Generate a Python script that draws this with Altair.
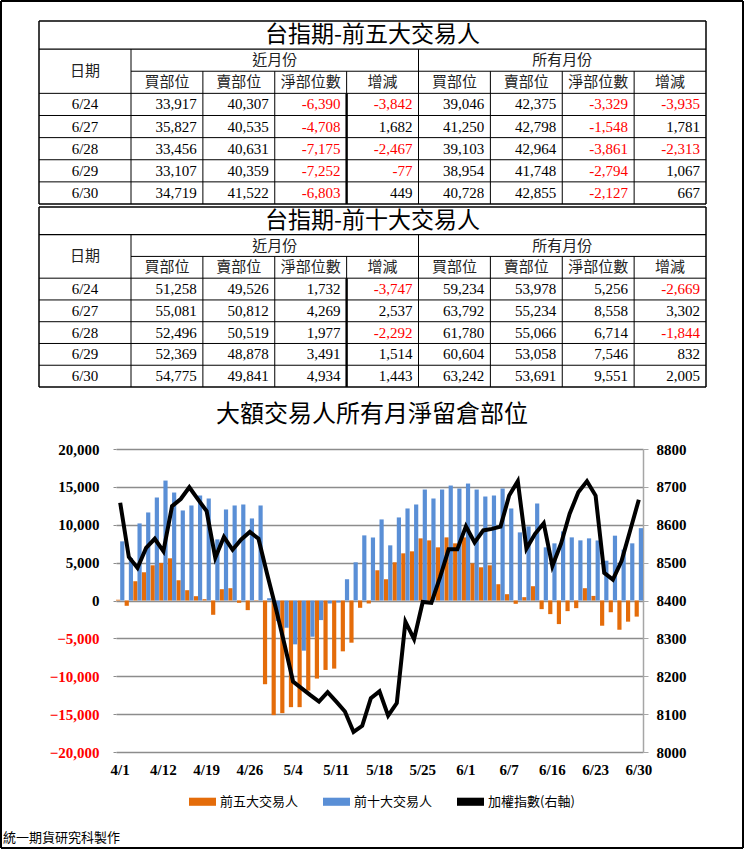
import altair as alt
import pandas as pd

# ---------------- table data ----------------
table_dates = ["6/24", "6/27", "6/28", "6/29", "6/30"]
sub_headers = ["買部位", "賣部位", "淨部位數", "增減"]

top5_near_buy = [33917, 35827, 33456, 33107, 34719]
top5_near_sell = [40307, 40535, 40631, 40359, 41522]
top5_near_net = [-6390, -4708, -7175, -7252, -6803]
top5_near_chg = [-3842, 1682, -2467, -77, 449]
top5_all_buy = [39046, 41250, 39103, 38954, 40728]
top5_all_sell = [42375, 42798, 42964, 41748, 42855]
top5_all_net = [-3329, -1548, -3861, -2794, -2127]
top5_all_chg = [-3935, 1781, -2313, 1067, 667]

top10_near_buy = [51258, 55081, 52496, 52369, 54775]
top10_near_sell = [49526, 50812, 50519, 48878, 49841]
top10_near_net = [1732, 4269, 1977, 3491, 4934]
top10_near_chg = [-3747, 2537, -2292, 1514, 1443]
top10_all_buy = [59234, 63792, 61780, 60604, 63242]
top10_all_sell = [53978, 55234, 55066, 53058, 53691]
top10_all_net = [5256, 8558, 6714, 7546, 9551]
top10_all_chg = [-2669, 3302, -1844, 832, 2005]

# ---------------- chart data ----------------
dates = ["4/1", "4/6", "4/7", "4/8", "4/11", "4/12", "4/13", "4/14", "4/15",
         "4/18", "4/19", "4/20", "4/21", "4/22", "4/25", "4/26", "4/27", "4/28", "4/29",
         "5/3", "5/4", "5/5", "5/6", "5/9", "5/10", "5/11", "5/12", "5/13",
         "5/16", "5/17", "5/18", "5/19", "5/20", "5/23", "5/24", "5/25", "5/26", "5/27",
         "5/30", "5/31",
         "6/1", "6/2", "6/3", "6/4", "6/6", "6/7", "6/8", "6/13", "6/14", "6/15", "6/16",
         "6/17", "6/20", "6/21", "6/22", "6/23", "6/24", "6/27", "6/28", "6/29", "6/30"]
tick_labels = ["4/1", "4/12", "4/19", "4/26", "5/4", "5/11", "5/18", "5/25",
               "6/1", "6/7", "6/16", "6/23", "6/30"]
top5_net = [100, -700, 2544, 3728, 4649, 4956, 5570, 2675, 1360, 570, 175,
            -1886, 1491, 1623, -307, -1272, -50, -11053, -15132, -14868, -14079,
            -14079, -11886, -10307, -9167, -8991, -6711, -5570, -965, -395, 3991,
            2807, 5044, 6228, 6491, 8202, 7939, 7018, 8333, 7544, 8333,
            4912, 4386, 4649, 2149, 833, -439, 439, 1886, -1140, -1798,
            -3114, -1404, -1009, 1623, 606, -3329, -1548, -3861, -2794, -2127]
top10_net = [7807, 5600, 10175, 11623, 13597, 15833, 14254, 11886, 12544, 13860, 13465,
             8070, 12018, 12544, 12675, 10833, 12544, 300, -2719, -3596, -5789,
             -6623, -4781, -2588, -395, -263, 2807, 5044, 8596, 8333, 10702,
             7281, 10965, 12149, 12675, 14649, 13465, 14649, 15176, 14781, 15439,
             14649, 13728, 13860, 14781, 12149, 8991, 9781, 12807, 7018, 7544,
             9123, 8333, 7939, 8202, 7925, 5256, 8558, 6714, 7546, 9551]
taiex = [8658, 8515, 8486, 8539, 8563, 8530, 8649, 8668, 8699, 8667, 8636,
         8513, 8568, 8534, 8561, 8581, 8563, 8470, 8380, 8285, 8186,
         8168, 8150, 8133, 8158, 8133, 8107, 8053, 8069, 8142, 8160,
         8096, 8129, 8344, 8298, 8396, 8394, 8461, 8535, 8535, 8596,
         8553, 8585, 8589, 8595, 8677, 8715, 8537, 8576, 8604, 8491,
         8550, 8629, 8686, 8715, 8677, 8473, 8455, 8504, 8585, 8666]
series_names = ["前五大交易人", "前十大交易人", "加權指數(右軸)"]

SERIF = "Liberation Serif, Noto Sans CJK TC"
CJK = "Noto Sans CJK TC"
RED = "#FF0000"
ORANGE = "#E46C0A"
BLUE = "#5A8FD6"
ONE = pd.DataFrame({"k": [0]})

# table geometry in cell units
DATE_U = 1.28
NCOL_U = DATE_U + 8
TITLE_U = 1.27
NROW_U = TITLE_U + 7
PAD_U = 0.085
PLOT_W = 527
PLOT_H = 303
# frame (relative to the plot origin shared by all three panels)
FL, FR = -115, 627


def vline(x, y1, y2, w=2.0):
    return alt.Chart(ONE).mark_rule(color="black", strokeWidth=w).encode(
        x=alt.value(x), y=alt.value(y1), y2=alt.value(y2))


def hline(y, x1, x2, w=2.0):
    return alt.Chart(ONE).mark_rule(color="black", strokeWidth=w).encode(
        y=alt.value(y), x=alt.value(x1), x2=alt.value(x2))


def build_table(title, columns, height, frame_top):
    xs = alt.Scale(domain=[0, NCOL_U], range=[-77, 590], nice=False, zero=False)
    ys = alt.Scale(domain=[0, NROW_U], reverse=True, nice=False, zero=False)
    X = alt.X("x:Q", scale=xs, axis=None)
    Y = alt.Y("y:Q", scale=ys, axis=None)

    title_df = pd.DataFrame([{"x": NCOL_U / 2, "y": TITLE_U / 2, "t": title}])
    head = [{"x": DATE_U / 2, "y": TITLE_U + 1, "t": "日期"},
            {"x": DATE_U + 2, "y": TITLE_U + 0.5, "t": "近月份"},
            {"x": DATE_U + 6, "y": TITLE_U + 0.5, "t": "所有月份"}]
    for k, h in enumerate(sub_headers * 2):
        head.append({"x": DATE_U + k + 0.5, "y": TITLE_U + 1.5, "t": h})
    head_df = pd.DataFrame(head)

    date_df = pd.DataFrame([{"x": DATE_U / 2, "y": TITLE_U + 2.5 + r, "t": d}
                            for r, d in enumerate(table_dates)])
    nums = []
    for k, col in enumerate(columns):
        for r, v in enumerate(col):
            nums.append({"x": DATE_U + k + 1 - PAD_U, "y": TITLE_U + 2.5 + r,
                         "t": f"{v:,}", "c": RED if v < 0 else "black"})
    num_df = pd.DataFrame(nums)

    lines = []
    lines += [dict(x=0, x2=NCOL_U, y=0, y2=0, w=1.5),
              dict(x=0, x2=NCOL_U, y=NROW_U, y2=NROW_U, w=1.5),
              dict(x=0, x2=0, y=0, y2=NROW_U, w=1.5),
              dict(x=NCOL_U, x2=NCOL_U, y=0, y2=NROW_U, w=1.5)]
    lines.append(dict(x=0, x2=NCOL_U, y=TITLE_U, y2=TITLE_U, w=1.2))
    lines.append(dict(x=DATE_U, x2=NCOL_U, y=TITLE_U + 1, y2=TITLE_U + 1, w=1))
    for r in range(2, 7):
        lines.append(dict(x=0, x2=NCOL_U, y=TITLE_U + r, y2=TITLE_U + r, w=1))
    lines.append(dict(x=DATE_U, x2=DATE_U, y=TITLE_U, y2=NROW_U, w=1))
    lines.append(dict(x=DATE_U + 4, x2=DATE_U + 4, y=TITLE_U, y2=NROW_U, w=1))
    for k in [1, 2, 5, 6, 7]:
        lines.append(dict(x=DATE_U + k, x2=DATE_U + k, y=TITLE_U + 1, y2=NROW_U, w=1))
    lines.append(dict(x=DATE_U + 3, x2=DATE_U + 3, y=TITLE_U + 1, y2=TITLE_U + 2, w=1))
    lines.append(dict(x=DATE_U + 3, x2=DATE_U + 3, y=TITLE_U + 2, y2=NROW_U, w=2.4))
    line_df = pd.DataFrame(lines)

    rules = alt.Chart(line_df).mark_rule(color="black").encode(
        x=X, x2="x2:Q", y=Y, y2="y2:Q",
        strokeWidth=alt.StrokeWidth("w:Q", scale=None))
    t_title = alt.Chart(title_df).mark_text(
        font=CJK, fontSize=23, color="black", baseline="middle", align="center"
    ).encode(x=X, y=Y, text="t:N")
    t_head = alt.Chart(head_df).mark_text(
        font=CJK, fontSize=15, color="#222222", baseline="middle", align="center"
    ).encode(x=X, y=Y, text="t:N")
    t_date = alt.Chart(date_df).mark_text(
        font=SERIF, fontSize=15, color="black", baseline="middle", align="center"
    ).encode(x=X, y=Y, text="t:N")
    t_num = alt.Chart(num_df).mark_text(
        font=SERIF, fontSize=15, baseline="middle", align="right"
    ).encode(x=X, y=Y, text="t:N", color=alt.Color("c:N", scale=None))

    if frame_top:
        top, bottom = -20, height + 2
    else:
        top, bottom = -2, height + 2
    frame = [vline(FL, top, bottom), vline(FR, top, bottom)]
    if frame_top:
        frame.append(hline(-20, FL, FR))
    return alt.layer(rules, t_title, t_head, t_date, t_num, *frame).properties(
        width=PLOT_W, height=height)


t1 = build_table("台指期-前五大交易人",
                 [top5_near_buy, top5_near_sell, top5_near_net, top5_near_chg,
                  top5_all_buy, top5_all_sell, top5_all_net, top5_all_chg], 183, True)
t2 = build_table("台指期-前十大交易人",
                 [top10_near_buy, top10_near_sell, top10_near_net, top10_near_chg,
                  top10_all_buy, top10_all_sell, top10_all_net, top10_all_chg], 180, False)

# ---------------- main chart ----------------
bar_df = pd.DataFrame({
    "d": dates * 2,
    "series": [series_names[0]] * len(dates) + [series_names[1]] * len(dates),
    "value": top5_net + top10_net,
})
line_df = pd.DataFrame({"d": dates, "series": series_names[2], "value": taiex})

color_scale = alt.Scale(domain=series_names, range=[ORANGE, BLUE, "black"])
legend = alt.Legend(orient="none", legendX=73, legendY=339, direction="horizontal",
                    title=None, symbolType="M-1,-0.3H1V0.3H-1Z", symbolSize=729,
                    labelFont=CJK, labelFontSize=13, labelColor="black",
                    columnPadding=24, labelOffset=4, padding=0,
                    symbolStrokeWidth=0, symbolOpacity=1)

x_enc = alt.X("d:N", sort=dates,
              scale=alt.Scale(domain=dates, paddingInner=0.03, paddingOuter=0),
              axis=alt.Axis(values=tick_labels, title=None, labelAngle=0,
                            labelFont=SERIF, labelFontSize=15, labelFontWeight="bold",
                            labelColor="black", ticks=False, domain=False,
                            labelPadding=10, labelOverlap=False, labelFlush=False))

bars = alt.Chart(bar_df).mark_bar().encode(
    x=x_enc,
    xOffset=alt.XOffset("series:N", sort=series_names[:2],
                        scale=alt.Scale(domain=series_names[:2], paddingInner=0, paddingOuter=0)),
    y=alt.Y("value:Q", scale=alt.Scale(domain=[-20000, 20000], nice=False),
            axis=alt.Axis(values=list(range(-20000, 20001, 5000)), format=",.0f", title=None,
                          labelFont=SERIF, labelFontSize=15, labelFontWeight="bold",
                          labelColor={"condition": {"test": "datum.value < 0", "value": RED},
                                      "value": "black"},
                          grid=True, gridColor="#8C8C8C", gridWidth=1.3,
                          domain=False, ticks=True, tickSize=3, tickColor="#8C8C8C",
                          labelPadding=14)),
    color=alt.Color("series:N", scale=color_scale, legend=legend),
)

line = alt.Chart(line_df).mark_line(strokeWidth=4).encode(
    x=alt.X("d:N", sort=dates),
    y=alt.Y("value:Q", scale=alt.Scale(domain=[8000, 8800], nice=False, zero=False),
            axis=alt.Axis(orient="right", values=list(range(8000, 8801, 100)), format="d",
                          title=None, labelFont=SERIF, labelFontSize=15,
                          labelFontWeight="bold", labelColor="black", grid=False,
                          domain=True, domainColor="#A6A6A6", domainWidth=1.5,
                          ticks=True, tickSize=5, tickColor="#A6A6A6", labelPadding=8)),
    color=alt.Color("series:N", scale=color_scale, legend=legend),
)

chart_title = alt.Chart(ONE).mark_text(
    text="大額交易人所有月淨留倉部位", font=CJK, fontSize=24, color="black",
    align="center", baseline="middle"
).encode(x=alt.value(256), y=alt.value(-34))

footer = alt.Chart(ONE).mark_text(
    text="統一期貨研究科製作", font=CJK, fontSize=13, color="black",
    align="left", baseline="middle"
).encode(x=alt.value(-113), y=alt.value(389))

main = alt.layer(
    bars, line, chart_title, footer,
    vline(FL, -66, 399), vline(FR, -66, 399), hline(399, FL, FR),
).resolve_scale(y="independent").properties(width=PLOT_W, height=PLOT_H)

chart = alt.vconcat(t1, t2, main, spacing=-8).resolve_scale(
    x="independent", y="independent", color="independent"
).properties(padding=0, background="white").configure_view(stroke=None)

chart.save("out.html", embed_options={"renderer": "svg", "actions": False})
